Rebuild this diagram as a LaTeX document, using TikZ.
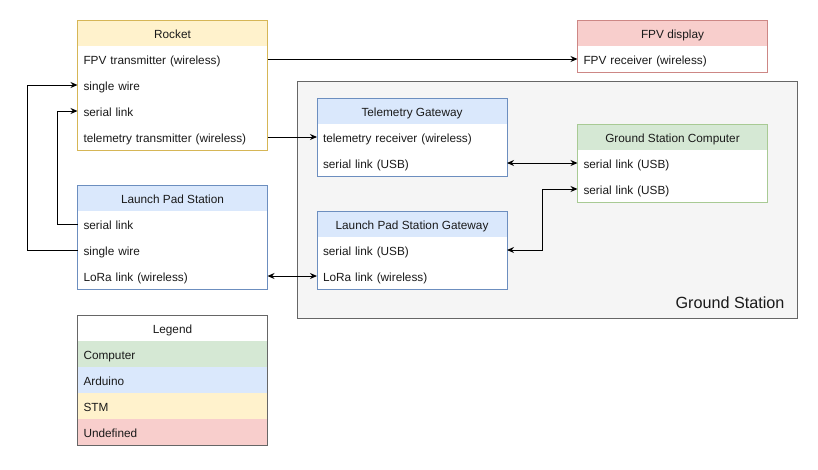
\documentclass[tikz,border=0pt]{standalone}
\usepackage{fontspec}
\setmainfont{Liberation Sans}
\usetikzlibrary{arrows.meta}

\definecolor{stmfill}{HTML}{FFF2CC}
\definecolor{stmline}{HTML}{D6B656}
\definecolor{ardfill}{HTML}{DAE8FC}
\definecolor{ardline}{HTML}{6C8EBF}
\definecolor{pcfill}{HTML}{D5E8D4}
\definecolor{pcline}{HTML}{82B366}
\definecolor{undfill}{HTML}{F8CECC}
\definecolor{undline}{HTML}{B85450}
\definecolor{gsfill}{HTML}{F5F5F5}
\definecolor{gsline}{HTML}{666666}
\definecolor{txt}{HTML}{1A1A1A}

\tikzstyle{header} = [rectangle, minimum width=190pt, minimum height=26pt, inner sep=0pt, outer sep=0pt, text height=11pt, text depth=1pt, text=txt, font=\fontsize{11.8}{14}\selectfont]
\tikzstyle{row} = [rectangle, fill=white, minimum height=26pt, text width=178pt, inner xsep=6pt, inner ysep=0pt, outer sep=0pt, text height=11pt, text depth=1pt, align=left, text=txt, font=\fontsize{11.8}{14}\selectfont]
\tikzstyle{link} = [line width=1pt, -{Stealth[length=7pt,width=6pt]}]
\tikzstyle{duplex} = [line width=1pt, {Stealth[length=7pt,width=6pt]}-{Stealth[length=7pt,width=6pt]}]

\begin{document}
\begin{tikzpicture}[x=1pt, y=-1pt]
	\useasboundingbox (0,0) rectangle (818,469);

	% ground station area
	\draw[gsline, fill=gsfill, line width=1pt] (297,81) rectangle (797,318);
	\node[anchor=east, text=txt, font=\fontsize{16.2}{19}\selectfont] (gsLabel) at (788,303) {Ground Station};

	% rocket
	\node[header, fill=stmfill, draw=stmline] (rocket) at (172.5,33) {Rocket};
	\node[row] (rocketFpv) at (172.5,59) {FPV transmitter (wireless)};
	\node[row] (rocketWire) at (172.5,85) {single wire};
	\node[row] (rocketSerial) at (172.5,111) {serial link};
	\node[row] (rocketTelem) at (172.5,137) {telemetry transmitter (wireless)};
	\draw[stmline, line width=1pt] (rocket.north west) rectangle (rocketTelem.south east);

	% launch pad station
	\node[header, fill=ardfill, draw=ardline] (pad) at (172.5,198) {Launch Pad Station};
	\node[row] (padSerial) at (172.5,224) {serial link};
	\node[row] (padWire) at (172.5,250) {single wire};
	\node[row] (padLora) at (172.5,276) {LoRa link (wireless)};
	\draw[ardline, line width=1pt] (pad.north west) rectangle (padLora.south east);

	% legend
	\node[header, fill=white, draw=black] (legend) at (172.5,328) {Legend};
	\node[row, fill=pcfill] (legendPc) at (172.5,354) {Computer};
	\node[row, fill=ardfill] (legendArd) at (172.5,380) {Arduino};
	\node[row, fill=stmfill] (legendStm) at (172.5,406) {STM};
	\node[row, fill=undfill] (legendUnd) at (172.5,432) {Undefined};
	\draw[gsline, line width=1pt] (legend.north west) rectangle (legendUnd.south east);

	% fpv display
	\node[header, fill=undfill, draw=undline] (fpv) at (672.5,33) {FPV display};
	\node[row] (fpvRx) at (672.5,59) {FPV receiver (wireless)};
	\draw[undline!70, line width=1pt] (fpv.north west) rectangle (fpvRx.south east);

	% telemetry gateway
	\node[header, fill=ardfill, draw=ardline] (tg) at (412,111) {Telemetry Gateway};
	\node[row] (tgRx) at (412,137) {telemetry receiver (wireless)};
	\node[row] (tgSerial) at (412,163) {serial link (USB)};
	\draw[ardline, line width=1pt] (tg.north west) rectangle (tgSerial.south east);

	% launch pad station gateway
	\node[header, fill=ardfill, draw=ardline] (lpsg) at (412,224) {Launch Pad Station Gateway};
	\node[row] (lpsgSerial) at (412,250) {serial link (USB)};
	\node[row] (lpsgLora) at (412,276) {LoRa link (wireless)};
	\draw[ardline, line width=1pt] (lpsg.north west) rectangle (lpsgLora.south east);

	% ground station computer
	\node[header, fill=pcfill, draw=pcline] (gsc) at (672.5,137) {Ground Station Computer};
	\node[row] (gscSerialA) at (672.5,163) {serial link (USB)};
	\node[row] (gscSerialB) at (672.5,189) {serial link (USB)};
	\draw[pcline!70, line width=1pt] (gsc.north west) rectangle (gscSerialB.south east);

	% links
	\draw[link] (rocketFpv.east) -- (fpvRx.west);
	\draw[link] (rocketTelem.east) -- (tgRx.west);
	\draw[link] (padWire.west) -- ++(-50,0) |- (rocketWire.west);
	\draw[link] (padSerial.west) -- ++(-20,0) |- (rocketSerial.west);
	\draw[duplex] (padLora.east) -- (lpsgLora.west);
	\draw[duplex] (tgSerial.east) -- (gscSerialA.west);
	\draw[duplex] (lpsgSerial.east) -- ++(35,0) |- (gscSerialB.west);
\end{tikzpicture}
\end{document}
